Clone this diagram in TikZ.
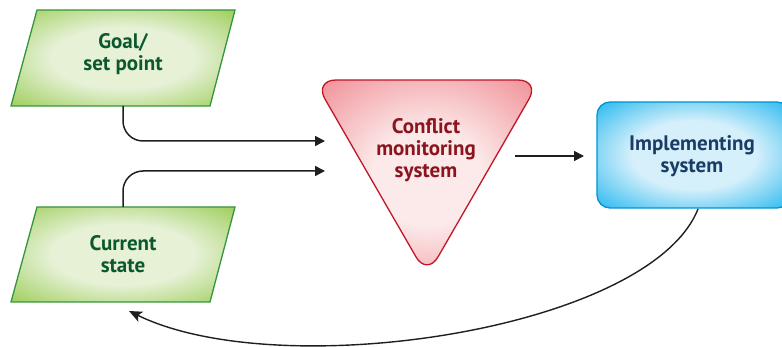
\documentclass[tikz,border=0pt]{standalone}
\usepackage{fontspec}
\setmainfont{PT Sans}
\usetikzlibrary{arrows.meta}

\definecolor{gOut}{RGB}{141,198,63}
\definecolor{gIn}{RGB}{230,241,214}
\definecolor{gLine}{RGB}{52,150,60}
\definecolor{gText}{RGB}{12,88,46}
\definecolor{rOut}{RGB}{238,130,138}
\definecolor{rIn}{RGB}{252,234,234}
\definecolor{rLine}{RGB}{192,22,40}
\definecolor{rText}{RGB}{140,20,30}
\definecolor{bOut}{RGB}{0,172,236}
\definecolor{bIn}{RGB}{214,240,251}
\definecolor{bLine}{RGB}{0,148,214}
\definecolor{bText}{RGB}{26,60,102}

\pgfdeclareradialshading{greenglow}{\pgfpoint{0bp}{0bp}}{color(0bp)=(gIn); color(16bp)=(gIn); color(40bp)=(gOut); color(100bp)=(gOut)}
\pgfdeclareradialshading{redglow}{\pgfpoint{0bp}{0bp}}{color(0bp)=(rIn); color(12bp)=(rIn); color(38bp)=(rOut); color(100bp)=(rOut)}
\pgfdeclareradialshading{blueglow}{\pgfpoint{0bp}{0bp}}{color(0bp)=(bIn); color(16bp)=(bIn); color(40bp)=(bOut); color(100bp)=(bOut)}

\tikzset{
  label text/.style={font=\bfseries\fontsize{21}{22}\selectfont, align=center, inner sep=0pt},
  flow/.style={line width=1.5pt, draw=black!88, -{Triangle[length=10pt,width=10pt]}},
  feedback/.style={line width=1.4pt, draw=black!88, -{Stealth[length=13pt,width=11pt,inset=3pt]}},
}

\begin{document}
\begin{tikzpicture}[x=1pt,y=-1pt]
\useasboundingbox (0,0) rectangle (782,347);

% input parallelograms
\shade[shading=greenglow, draw=gLine, line width=1.3pt]
  (37,10) -- (235,10) -- (210,106) -- (11,106) -- cycle;
\shade[shading=greenglow, draw=gLine, line width=1.3pt]
  (37,207) -- (235,207) -- (210,302) -- (11,302) -- cycle;
\node[label text, text=gText] (goal) at (123,54) {Goal/\\set point};
\node[label text, text=gText] (current) at (123,254) {Current\\state};
\coordinate (goalout) at (123,106);
\coordinate (curout) at (123,207);
\coordinate (curin) at (129,311);

% comparator triangle
\shade[shading=redglow, draw=rLine, line width=1.3pt, rounded corners=22pt]
  (314,80) -- (540,80) -- (427,276) -- cycle;
\node[label text, text=rText] (cms) at (426,150) {Conflict\\monitoring\\system};
\coordinate (cmsin1) at (325,141);
\coordinate (cmsin2) at (325,171);
\coordinate (cmsout) at (515,156);

% implementing box
\shade[shading=blueglow, draw=bLine, line width=1.3pt, rounded corners=13pt]
  (597,102) rectangle (790,208);
\node[label text, text=bText] (impl) at (692,156) {Implementing\\system};
\coordinate (implin) at (584,156);
\coordinate (implout) at (698,209);

% connectors
\draw[flow, rounded corners=20pt] (goalout) |- (cmsin1);
\draw[flow, rounded corners=20pt] (curout) |- (cmsin2);
\draw[flow] (cmsout) -- (implin);
\draw[feedback] (implout) .. controls (650,330) and (280,385) .. (curin);
\end{tikzpicture}
\end{document}
